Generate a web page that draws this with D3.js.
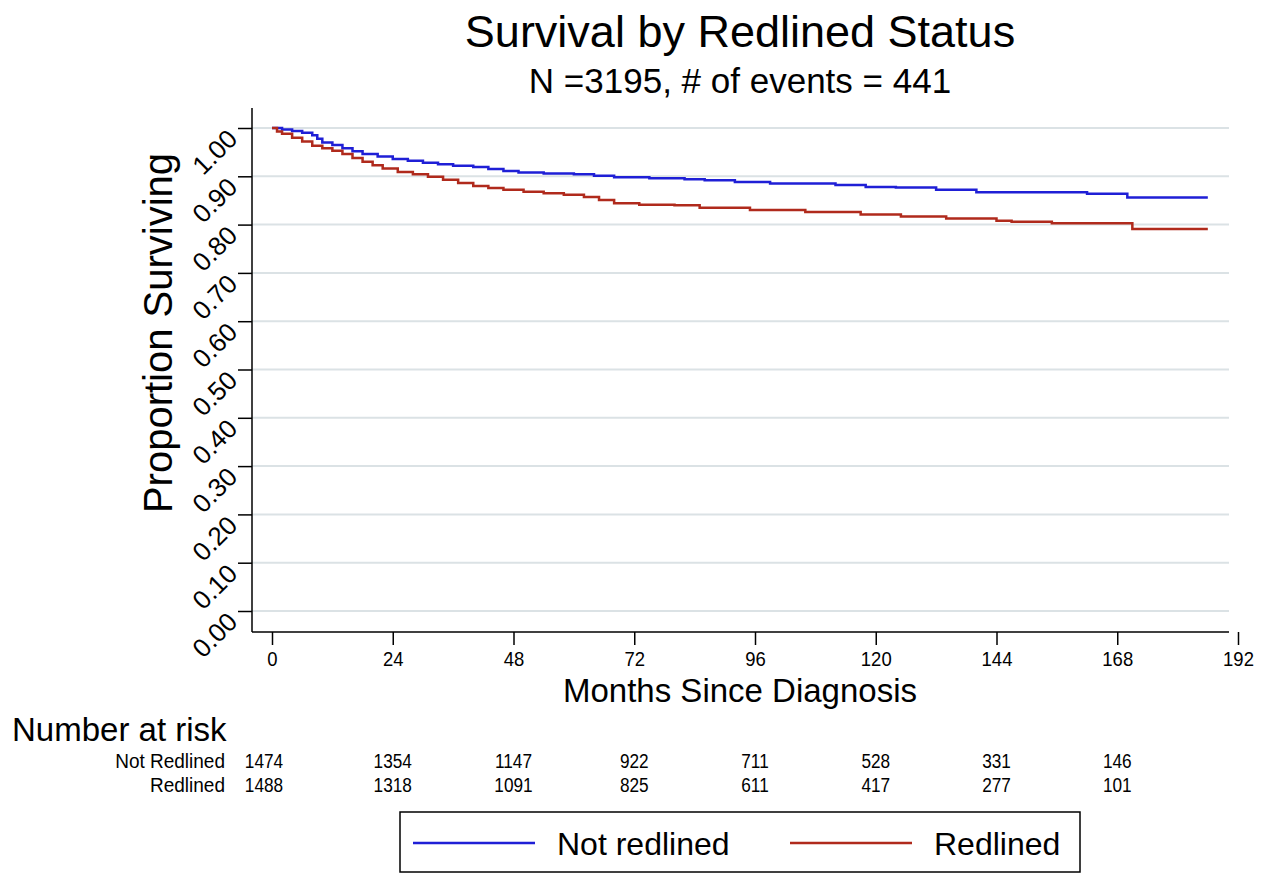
<!DOCTYPE html>
<html>
<head>
<meta charset="utf-8">
<script src="https://cdn.jsdelivr.net/npm/d3@7"></script>
<style>
  body { margin: 0; background: #fff; }
  svg text { font-family: "Liberation Sans", Arial, Helvetica, sans-serif; fill: #000; }
</style>
</head>
<body>
<svg id="chart" width="1267" height="874"></svg>
<script>
// Kaplan-Meier estimates (month, survival)
const notRedlinedTimes = [0, 2, 4, 6, 8, 9, 10, 12, 14, 16, 18, 21, 24, 27, 30, 33, 36, 40, 43, 46, 49, 54, 60, 64, 68, 75, 82, 86, 92, 99, 112, 118, 124, 132, 140, 162, 170, 186];
const notRedlinedSurv = [1.000, 0.997, 0.994, 0.990, 0.985, 0.978, 0.970, 0.965, 0.958, 0.952, 0.946, 0.941, 0.936, 0.932, 0.928, 0.925, 0.922, 0.919, 0.915, 0.911, 0.908, 0.906, 0.904, 0.901, 0.898, 0.896, 0.894, 0.892, 0.888, 0.885, 0.882, 0.878, 0.877, 0.872, 0.867, 0.864, 0.856, 0.856];

const redlinedTimes = [0, 1, 2, 4, 6, 8, 10, 12, 14, 16, 18, 20, 22, 25, 28, 31, 34, 37, 40, 43, 46, 50, 54, 58, 62, 65, 68, 73, 80, 85, 95, 106, 117, 125, 134, 144, 147, 155, 171, 186];
const redlinedSurv = [1.000, 0.993, 0.988, 0.980, 0.972, 0.963, 0.958, 0.953, 0.946, 0.938, 0.930, 0.923, 0.916, 0.909, 0.904, 0.899, 0.893, 0.886, 0.880, 0.876, 0.872, 0.868, 0.865, 0.862, 0.857, 0.851, 0.844, 0.841, 0.840, 0.835, 0.830, 0.826, 0.821, 0.817, 0.8125, 0.808, 0.806, 0.803, 0.791, 0.791];

const xTicks = [0, 24, 48, 72, 96, 120, 144, 168, 192];
const yTicks = [0, 0.1, 0.2, 0.3, 0.4, 0.5, 0.6, 0.7, 0.8, 0.9, 1.0];

const riskTimes = [0, 24, 48, 72, 96, 120, 144, 168];
const riskNotRedlined = [1474, 1354, 1147, 922, 711, 528, 331, 146];
const riskRedlined = [1488, 1318, 1091, 825, 611, 417, 277, 101];

const blue = '#1f1fd6';
const red = '#b02a1c';

const svg = d3.select('#chart');

const x = d3.scaleLinear().domain([0, 192]).range([272, 1238]);
const y = d3.scaleLinear().domain([0, 1]).range([611, 128]);

const plotLeft = 252, plotRight = 1229, plotTop = 108, plotBottom = 632;

// squeeze a text horizontally so it looks like the condensed face in the original
function condense(sel, k) {
  sel.each(function () {
    const w = this.getComputedTextLength();
    d3.select(this).attr('textLength', w * k).attr('lengthAdjust', 'spacingAndGlyphs');
  });
}

// titles
svg.append('text')
  .attr('x', 740).attr('y', 47)
  .attr('text-anchor', 'middle')
  .style('font-size', '45px')
  .text('Survival by Redlined Status');

svg.append('text')
  .attr('x', 740).attr('y', 93)
  .attr('text-anchor', 'middle')
  .style('font-size', '35px')
  .text('N =3195, # of events = 441');

// gridlines
svg.append('g')
  .selectAll('line')
  .data(yTicks)
  .enter().append('line')
  .attr('x1', plotLeft).attr('x2', plotRight)
  .attr('y1', d => y(d)).attr('y2', d => y(d))
  .attr('stroke', '#dbe2e5')
  .attr('stroke-width', 2);

// y axis
const yAxis = svg.append('g')
  .attr('transform', `translate(${plotLeft},0)`)
  .call(d3.axisLeft(y).tickValues(yTicks).tickSize(14).tickFormat(d3.format('.2f')));
yAxis.select('.domain').remove();
yAxis.selectAll('.tick line').attr('stroke', '#000').attr('stroke-width', 1.5);
yAxis.selectAll('.tick text')
  .attr('x', null).attr('dy', null)
  .attr('text-anchor', 'end')
  .attr('transform', 'translate(-13,12) rotate(-45)')
  .style('font-size', '26px');

svg.append('line')
  .attr('x1', plotLeft).attr('x2', plotLeft)
  .attr('y1', plotTop).attr('y2', plotBottom)
  .attr('stroke', '#000').attr('stroke-width', 1.5);

// x axis
const xAxis = svg.append('g')
  .attr('transform', `translate(0,${plotBottom})`)
  .call(d3.axisBottom(x).tickValues(xTicks).tickSize(13).tickPadding(6));
xAxis.select('.domain').remove();
xAxis.selectAll('.tick line').attr('stroke', '#000').attr('stroke-width', 1.5);
xAxis.selectAll('.tick text')
  .style('font-size', '21px')
  .call(condense, 0.88);

svg.append('line')
  .attr('x1', plotLeft).attr('x2', plotRight)
  .attr('y1', plotBottom).attr('y2', plotBottom)
  .attr('stroke', '#000').attr('stroke-width', 1.5);

// axis titles
svg.append('text')
  .attr('transform', 'translate(172,333) rotate(-90)')
  .attr('text-anchor', 'middle')
  .style('font-size', '40px')
  .text('Proportion Surviving');

svg.append('text')
  .attr('x', 740).attr('y', 702)
  .attr('text-anchor', 'middle')
  .style('font-size', '33px')
  .text('Months Since Diagnosis');

// survival curves
const line = d3.line()
  .x(d => x(d[0]))
  .y(d => y(d[1]))
  .curve(d3.curveStepAfter);

const series = [
  { name: 'Not redlined', color: blue, data: d3.zip(notRedlinedTimes, notRedlinedSurv) },
  { name: 'Redlined', color: red, data: d3.zip(redlinedTimes, redlinedSurv) }
];

svg.append('g')
  .selectAll('path')
  .data(series)
  .enter().append('path')
  .attr('d', d => line(d.data))
  .attr('fill', 'none')
  .attr('stroke', d => d.color)
  .attr('stroke-width', 2.5);

// number at risk table
svg.append('text')
  .attr('x', 12).attr('y', 741)
  .style('font-size', '33px')
  .text('Number at risk');

const riskRows = [
  { label: 'Not Redlined', values: riskNotRedlined, y: 768 },
  { label: 'Redlined', values: riskRedlined, y: 792 }
];

riskRows.forEach(row => {
  svg.append('text')
    .attr('x', 225).attr('y', row.y)
    .attr('text-anchor', 'end')
    .style('font-size', '20px')
    .text(row.label)
    .call(condense, 0.95);

  svg.append('g')
    .selectAll('text')
    .data(row.values)
    .enter().append('text')
    .attr('x', (d, i) => i === 0 ? x(riskTimes[i]) - 8 : x(riskTimes[i]))
    .attr('y', row.y)
    .attr('text-anchor', 'middle')
    .style('font-size', '20px')
    .text(d => d)
    .call(condense, 0.86);
});

// legend
const legend = svg.append('g');
legend.append('rect')
  .attr('x', 400).attr('y', 812)
  .attr('width', 680).attr('height', 60)
  .attr('fill', '#fff')
  .attr('stroke', '#000')
  .attr('stroke-width', 1.5);

const legendItems = [
  { name: 'Not redlined', color: blue, x: 413 },
  { name: 'Redlined', color: red, x: 790 }
];

legendItems.forEach(item => {
  legend.append('line')
    .attr('x1', item.x).attr('x2', item.x + 122)
    .attr('y1', 843).attr('y2', 843)
    .attr('stroke', item.color)
    .attr('stroke-width', 2.5);
  legend.append('text')
    .attr('x', item.x + 144).attr('y', 855)
    .style('font-size', '32px')
    .text(item.name);
});
</script>
</body>
</html>
